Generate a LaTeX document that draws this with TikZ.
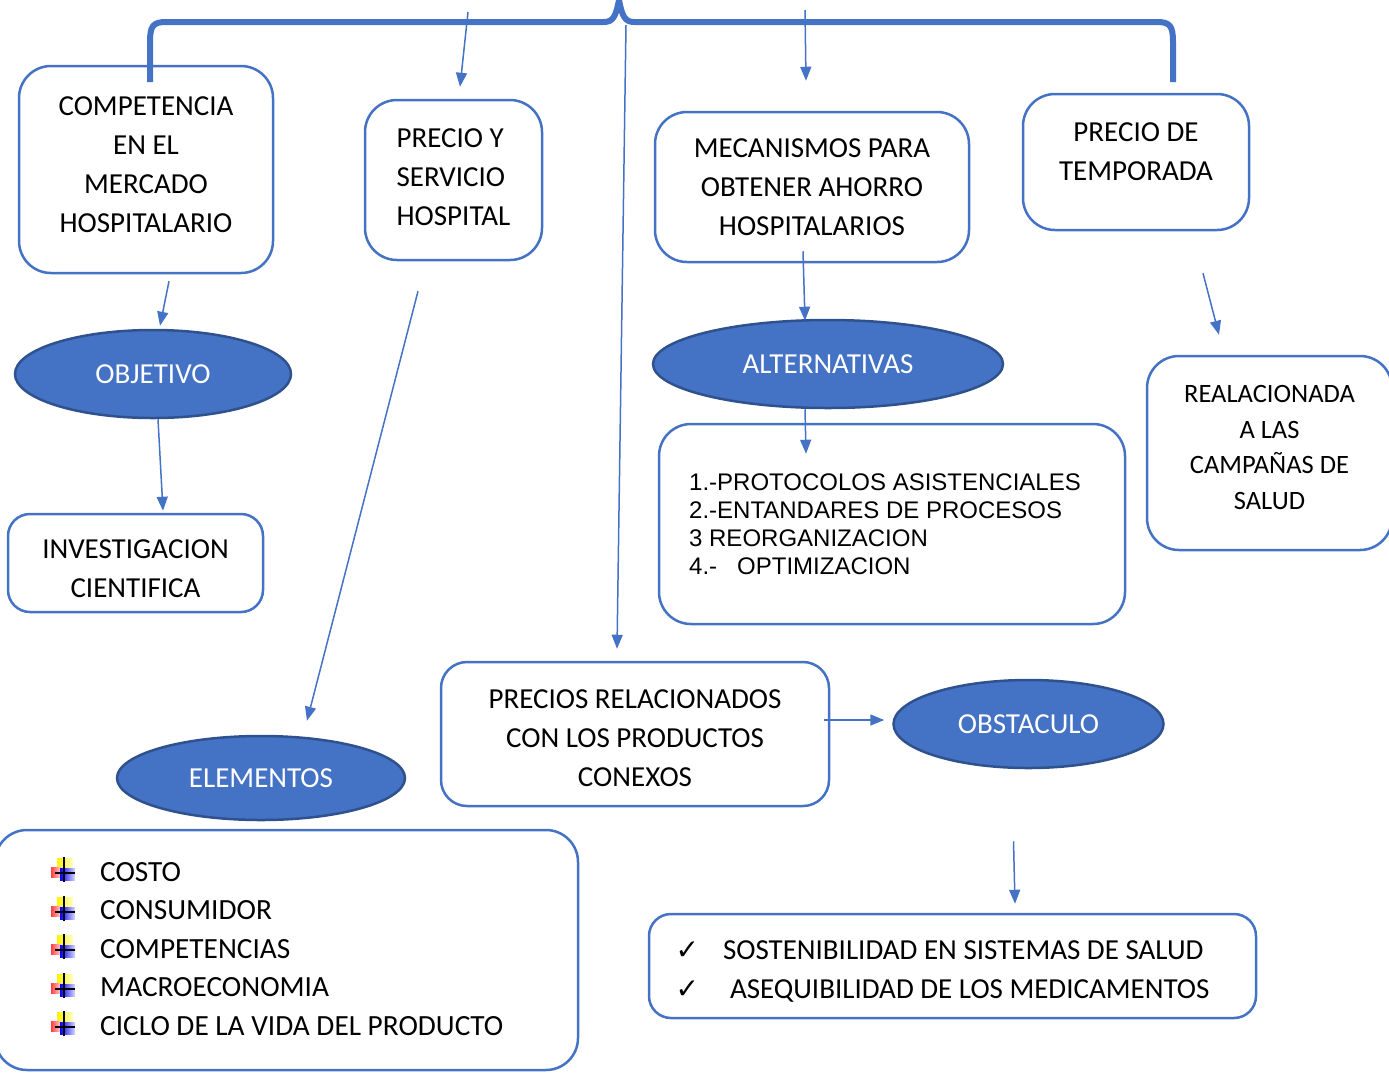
\documentclass[tikz,border=0pt]{standalone}
\usepackage{fontspec}
\setmainfont{Carlito}
\newfontfamily\arialfont{Liberation Sans}
\newfontfamily\checkfont{DejaVu Sans}
\usepackage{tikz}
\usetikzlibrary{calc}
\usetikzlibrary{arrows.meta}
\usetikzlibrary{shapes.geometric}
\usetikzlibrary{positioning}
\definecolor{boxblue}{RGB}{68,114,196}
\definecolor{ovalline}{RGB}{47,82,143}

% struts that move a text block up (\tup) or down (\tdown) in its box
\newcommand{\tup}[1]{\rule[-#1]{0pt}{0pt}}
\newcommand{\tdown}[1]{\rule{0pt}{#1}}
\newcommand{\chk}{{\checkfont\fontsize{28}{28}\selectfont ✓}}

\begin{document}
\begin{tikzpicture}[x=1pt,y=-1pt]
    \tikzstyle{every node}=[inner sep=0pt,font=\fontsize{29}{39}\selectfont]
    \tikzstyle{wbox}=[draw=boxblue,line width=2.5pt,rounded corners=32pt,align=center]
    \tikzstyle{oval}=[ellipse,draw=ovalline,fill=boxblue,line width=2.5pt,text=white]
    \tikzstyle{arr}=[draw=boxblue,line width=1.5pt,-{Triangle[length=14pt,width=11pt]}]
    \tikzstyle{brace}=[draw=boxblue,line width=6pt]

    \useasboundingbox (0,0) rectangle (1389,1072);

    % top brace
    \draw[brace] (150,82) -- (150,42) .. controls (150,26) and (153,22) .. (166,22)
                 -- (604,22) .. controls (613,22) and (616,16) .. (619,0)
                 .. controls (622,16) and (625,22) .. (634,22)
                 -- (1157,22) .. controls (1170,22) and (1173,26) .. (1173,42) -- (1173,82) ;

    \coordinate (topa) at (468,12) ;
    \coordinate (topb) at (805,10) ;
    \coordinate (topc) at (626,25) ;

    % boxes
    \node[wbox,minimum width=254pt,minimum height=207pt] (comp) at (146,169.5)
         {COMPETENCIA\\EN EL\\MERCADO\\HOSPITALARIO\tup{10pt}} ;
    \node[wbox,align=left,minimum width=177pt,minimum height=160pt] (prec) at (453.5,180)
         {PRECIO Y\\SERVICIO\\HOSPITAL\tup{6pt}} ;
    \node[wbox,minimum width=314pt,minimum height=150pt] (meca) at (812,187)
         {MECANISMOS PARA\\OBTENER AHORRO\\HOSPITALARIOS} ;
    \node[wbox,minimum width=226pt,minimum height=136pt] (temp) at (1136,162)
         {PRECIO DE\\TEMPORADA\tup{21pt}} ;

    \node[oval,minimum width=276pt,minimum height=88pt] (obj) at (153,374) {OBJETIVO} ;
    \node[wbox,minimum width=255pt,minimum height=98pt,rounded corners=22pt] (inv) at (135.5,563)
         {\tdown{31pt}INVESTIGACION\\CIENTIFICA} ;

    \node[oval,minimum width=350pt,minimum height=88pt] (alt) at (828,364) {ALTERNATIVAS} ;
    \node[wbox,align=left,minimum width=466pt,minimum height=200pt,
          font=\arialfont\fontsize{24}{28}\selectfont] (altlist) at (892,524)
         {1.-PROTOCOLOS ASISTENCIALES\hspace*{14pt}\\2.-ENTANDARES DE PROCESOS\\3 REORGANIZACION\\4.-\hspace{20pt}OPTIMIZACION} ;

    \node[wbox,minimum width=245pt,minimum height=194pt,font=\fontsize{26.5}{35.5}\selectfont] (realac) at (1269.5,453)
         {REALACIONADA\\A LAS\\CAMPAÑAS DE\\SALUD\tup{11pt}} ;

    \node[oval,minimum width=288pt,minimum height=84pt] (elem) at (261,778) {ELEMENTOS} ;
    \node[wbox,minimum width=583pt,minimum height=240pt] (elembox) at (286.5,950) {} ;
    \node[anchor=west,align=left,font=\fontsize{29.3}{38.5}\selectfont] (elemlist) at (100,949)
         {COSTO\\CONSUMIDOR\\COMPETENCIAS\\MACROECONOMIA\\CICLO DE LA VIDA DEL PRODUCTO} ;

    \newcommand{\taskicon}[1]{%
      \begin{scope}[shift={#1}]
        \shade[left color=yellow!90!orange,right color=yellow!20] (-7,-15) rectangle (9,0) ;
        \shade[left color=red!75,right color=red!10] (-13,-6) rectangle (-2,4) ;
        \shade[left color=blue,right color=blue!15] (-4,-5) rectangle (11,7) ;
        \draw[black,line width=1.6pt] (0,-16) -- (0,9) (-9,0) -- (11,0) ;
      \end{scope}}
    \foreach \y in {872,911,949,988,1026}{\taskicon{(64,\y+1)}}

    \node[wbox,minimum width=388pt,minimum height=144pt,rounded corners=26pt] (precios) at (635,734)
         {\tdown{27pt}PRECIOS RELACIONADOS\\CON LOS PRODUCTOS\\CONEXOS} ;
    \node[oval,minimum width=270pt,minimum height=88pt] (obs) at (1028.5,724) {OBSTACULO} ;
    \node[wbox,align=left,minimum width=607pt,minimum height=104pt,rounded corners=22pt] (sost) at (952.5,966)
         {\tdown{29pt}\chk\hspace{24pt}SOSTENIBILIDAD EN SISTEMAS DE SALUD\\
          \chk\hspace{31pt}ASEQUIBILIDAD DE LOS MEDICAMENTOS\hspace*{20pt}} ;

    % connectors
    \draw[arr] (topa) -- ([xshift=6.5pt,yshift=12pt]prec.north) ;
    \draw[arr] (topb) -- ([xshift=-6pt,yshift=30pt]meca.north) ;
    \draw[arr] (topc) -- ([xshift=-18pt,yshift=12pt]precios.north) ;
    \draw[arr] ([xshift=23pt,yshift=-7pt]comp.south) -- ([xshift=7pt,yshift=3pt]obj.north) ;
    \draw[arr] ([xshift=5pt]obj.south) -- ([xshift=27.5pt,yshift=2pt]inv.north) ;
    \draw[arr] ([xshift=-35.5pt,yshift=-30pt]prec.south) -- ([xshift=46pt,yshift=14pt]elem.north) ;
    \draw[arr] ([xshift=-9pt,yshift=12pt]meca.south) -- ([xshift=-23pt,yshift=-2pt]alt.north) ;
    \draw[arr] ([xshift=-23pt]alt.south) -- ([xshift=-86pt,yshift=-31pt]altlist.north) ;
    \draw[arr] ([xshift=67pt,yshift=-42pt]temp.south) -- ([xshift=-50.5pt,yshift=20pt]realac.north) ;
    \draw[arr] ([xshift=-6pt,yshift=14pt]precios.east) -- ([xshift=-8pt,yshift=4pt]obs.west) ;
    \draw[arr] ([xshift=-15pt,yshift=-72pt]obs.south) -- ([xshift=62.5pt,yshift=9pt]sost.north) ;

\end{tikzpicture}
\end{document}
